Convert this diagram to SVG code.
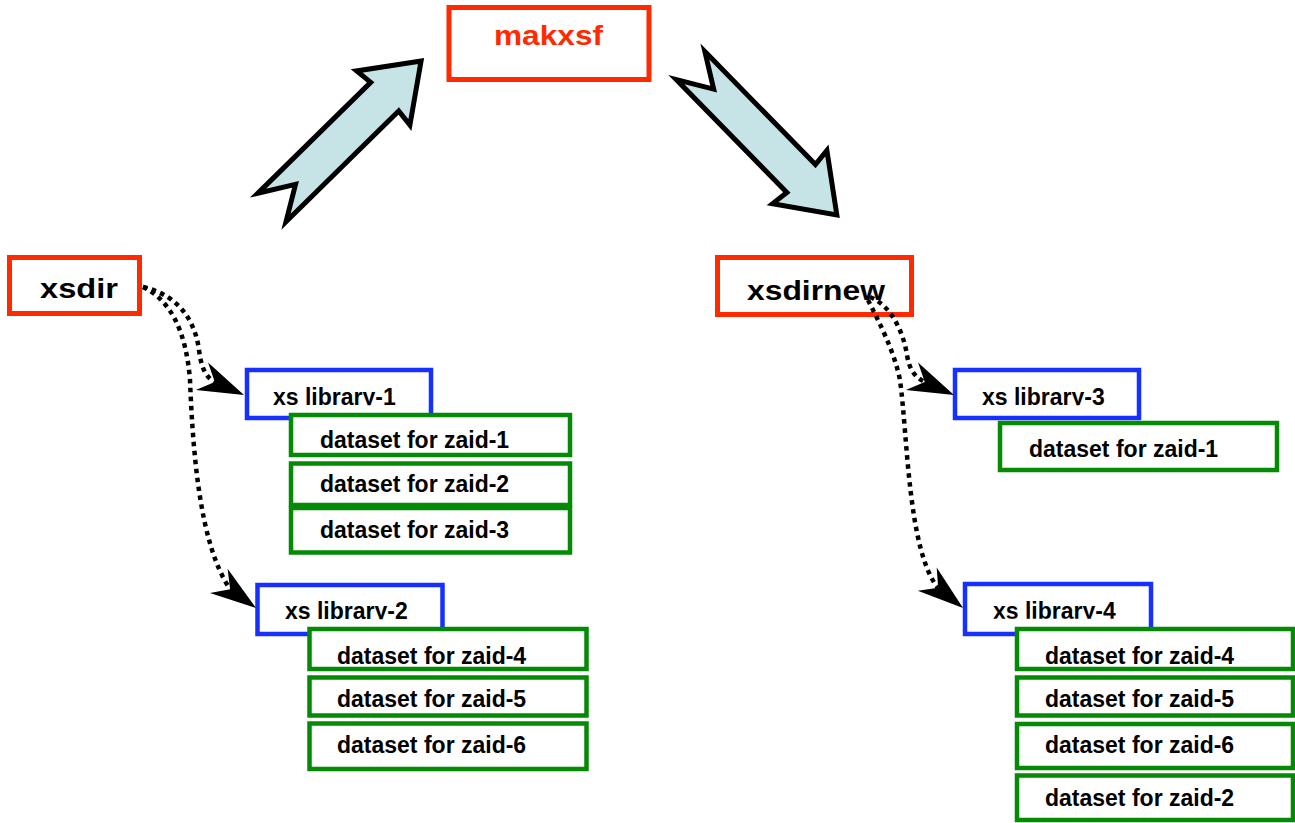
<svg xmlns="http://www.w3.org/2000/svg" xmlns:xlink="http://www.w3.org/1999/xlink" width="1295" height="823" viewBox="0 0 1295 823">
<style>
  .red { fill: #ffffff; stroke: #ff2a00; stroke-width: 5; }
  .blue { fill: #ffffff; stroke: #1530ff; stroke-width: 4.5; }
  .green { fill: #ffffff; stroke: #058a05; stroke-width: 4.5; }
  .big { font-family: "Liberation Sans", Arial, sans-serif; font-weight: bold; font-size: 28px; fill: #000000; }
  .mk { fill: #ff2a00; }
  .small { font-family: "Liberation Sans", Arial, sans-serif; font-weight: bold; font-size: 23px; fill: #000000; }
  .flow { fill: #c6e3e6; stroke: #000000; stroke-width: 5; stroke-linejoin: miter; }
  .dot { fill: none; stroke: #000000; stroke-width: 4.5; stroke-dasharray: 4.5 4.5; }
  .head { fill: #000000; stroke: none; }
</style>
<defs>
  <path id="blockArrow" d="M0,-20 L158,-20 L156,-38 L209,0 L156,38 L158,20 L0,20 L33,0 Z"/>
  <path id="ah" d="M0,0 L-46,-15 L-32,0 L-46,15 Z"/>
  <clipPath id="cut" clipPathUnits="objectBoundingBox"><rect x="0" y="0" width="1" height="0.82"/></clipPath>
</defs>

<g id="flow-arrows">
  <use xlink:href="#blockArrow" class="flow" transform="translate(272,207.4) rotate(-44.5)"/>
  <use xlink:href="#blockArrow" class="flow" transform="translate(690.6,65.6) rotate(45.6)"/>
</g>

<g id="makxsf">
  <rect class="red" x="449" y="7.5" width="200" height="72"/>
  <text class="big mk" x="494" y="45" textLength="109" lengthAdjust="spacingAndGlyphs">makxsf</text>
</g>

<g id="xsdir">
  <rect class="red" x="9.5" y="257.5" width="130" height="56"/>
  <text class="big" x="40" y="298" textLength="78" lengthAdjust="spacingAndGlyphs">xsdir</text>
</g>

<g id="xsdirnew">
  <rect class="red" x="717.5" y="257.5" width="194" height="57"/>
  <text class="big" x="747" y="300" textLength="138" lengthAdjust="spacingAndGlyphs">xsdirnew</text>
</g>

<g id="xslib1">
  <rect class="blue" x="247" y="370" width="184" height="48"/>
  <text class="small" x="273" y="405" clip-path="url(#cut)">xs library-1</text>
</g>
<g id="lib1-datasets">
  <rect class="green" x="291" y="415" width="279" height="40"/>
  <text class="small" x="320" y="448">dataset for zaid-1</text>
  <rect class="green" x="291" y="463.5" width="279" height="41.5"/>
  <text class="small" x="320" y="492">dataset for zaid-2</text>
  <rect class="green" x="291" y="508" width="279" height="44.5"/>
  <text class="small" x="320" y="538">dataset for zaid-3</text>
</g>

<g id="xslib2">
  <rect class="blue" x="257.5" y="585" width="185" height="49"/>
  <text class="small" x="285" y="619" clip-path="url(#cut)">xs library-2</text>
</g>
<g id="lib2-datasets">
  <rect class="green" x="309.5" y="629" width="277" height="40"/>
  <text class="small" x="337" y="664">dataset for zaid-4</text>
  <rect class="green" x="309.5" y="677.5" width="277" height="38"/>
  <text class="small" x="337" y="706.5">dataset for zaid-5</text>
  <rect class="green" x="309.5" y="723.5" width="277" height="45.5"/>
  <text class="small" x="337" y="752.5">dataset for zaid-6</text>
</g>

<g id="xslib3">
  <rect class="blue" x="955" y="370" width="184" height="48"/>
  <text class="small" x="982" y="405" clip-path="url(#cut)">xs library-3</text>
</g>
<g id="lib3-datasets">
  <rect class="green" x="1000" y="423" width="277" height="47"/>
  <text class="small" x="1029" y="457">dataset for zaid-1</text>
</g>

<g id="xslib4">
  <rect class="blue" x="965" y="584" width="186" height="50"/>
  <text class="small" x="993" y="618.5" clip-path="url(#cut)">xs library-4</text>
</g>
<g id="lib4-datasets">
  <rect class="green" x="1017" y="629" width="276" height="40"/>
  <text class="small" x="1045" y="664">dataset for zaid-4</text>
  <rect class="green" x="1017" y="677.5" width="276" height="38"/>
  <text class="small" x="1045" y="706.5">dataset for zaid-5</text>
  <rect class="green" x="1017" y="724" width="276" height="44"/>
  <text class="small" x="1045" y="752.5">dataset for zaid-6</text>
  <rect class="green" x="1017" y="775.5" width="276" height="44.5"/>
  <text class="small" x="1045" y="806">dataset for zaid-2</text>
</g>

<g id="connectors">
  <path class="dot" d="M143,287 C178,295 195,320 199,350 C201,366 205,377 215,382"/>
  <use xlink:href="#ah" class="head" transform="translate(244,395) rotate(24)"/>
  <path class="dot" d="M143,287 C170,300 186,330 190,380 C193,455 200,545 230,589"/>
  <use xlink:href="#ah" class="head" transform="translate(256,608) rotate(36)"/>
  <path class="dot" d="M870,297 C890,305 903,330 907,355 C909,368 914,377 925,382"/>
  <use xlink:href="#ah" class="head" transform="translate(954,395) rotate(24)"/>
  <path class="dot" d="M868,300 C878,320 894,350 900,380 C908,440 908,550 938,588"/>
  <use xlink:href="#ah" class="head" transform="translate(963,608) rotate(39)"/>
</g>
</svg>
